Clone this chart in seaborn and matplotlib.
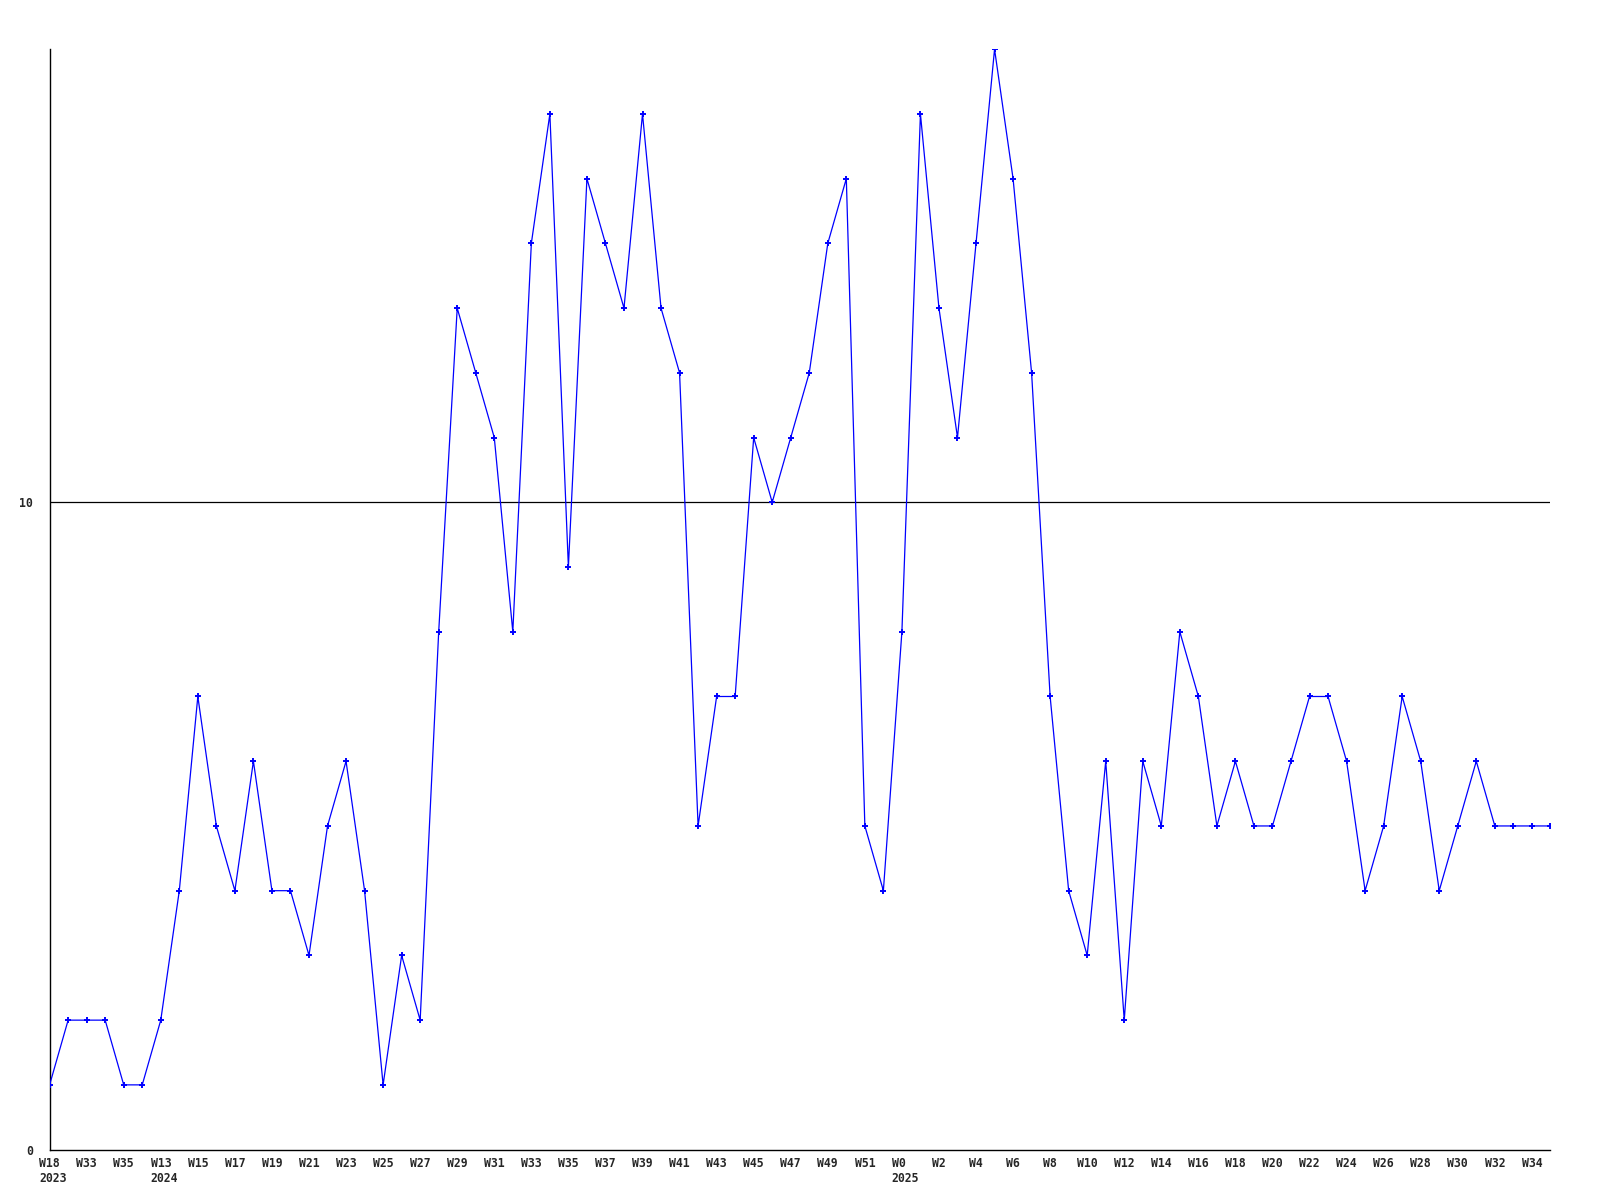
import matplotlib
matplotlib.use('Agg')
import matplotlib.pyplot as plt
import matplotlib.transforms as mtransforms
import seaborn as sns
import pandas as pd

# 값 (주별)
values = [1, 2, 2, 2, 1, 1, 2, 4, 7, 5,
          4, 6, 4, 4, 3, 5, 6, 4, 1, 3,
          2, 8, 13, 12, 11, 8, 14, 16, 9, 15,
          14, 13, 16, 13, 12, 5, 7, 7, 11, 10,
          11, 12, 14, 15, 5, 4, 8, 16, 13, 11,
          14, 17, 15, 12, 7, 4, 3, 6, 2, 6,
          5, 8, 7, 5, 6, 5, 5, 6, 7, 7,
          6, 4, 5, 7, 6, 4, 5, 6, 5, 5,
          5, 5]

# x축 라벨 (두 칸마다)
tick_labels = (['W18\n2023', 'W33', 'W35', 'W13\n2024']
               + ['W%d' % w for w in range(15, 52, 2)]
               + ['W0\n2025']
               + ['W%d' % w for w in range(2, 35, 2)])

y_ticks = [0, 10]

df = pd.DataFrame({'idx': range(len(values)), 'value': values})

sns.set_style('white')
plt.rcParams['font.family'] = ['DejaVu Sans Mono']

fig = plt.figure(figsize=(16, 12), dpi=100)
ax = fig.add_axes([0.031, 0.042, 0.938, 0.917])

ax.axhline(10, color='black', linewidth=0.9, zorder=1)
sns.lineplot(data=df, x='idx', y='value', ax=ax, color='#0000ff',
             linewidth=0.9, marker='+', markersize=4.5, markeredgewidth=1.4,
             markeredgecolor='#0000ff', zorder=3)

ax.set_xlim(0, len(values) - 1)
ax.set_ylim(0, 17)

ax.set_xticks(range(0, len(values) - 1, 2))
ax.set_xticklabels(tick_labels, fontsize=8.3, fontweight='bold',
                   multialignment='left')
ax.set_yticks(y_ticks)
ax.set_yticklabels([str(t) for t in y_ticks], fontsize=8.3, fontweight='bold')
ax.tick_params(axis='both', length=0)
ax.tick_params(axis='x', pad=5)
ax.tick_params(axis='y', pad=12)
ax.set_xlabel('')
ax.set_ylabel('')

# 연도 라벨: 첫 줄이 점 가운데에 오도록 약간 오른쪽으로
shift = mtransforms.ScaledTranslation(3.5 / 100, 0, fig.dpi_scale_trans)
for lab in ax.get_xticklabels():
    if '\n' in lab.get_text():
        lab.set_transform(lab.get_transform() + shift)

for s in ['top', 'right']:
    ax.spines[s].set_visible(False)
for s in ['left', 'bottom']:
    ax.spines[s].set_color('black')
    ax.spines[s].set_linewidth(1.0)

fig.savefig('out.png', dpi=100, facecolor='white')
